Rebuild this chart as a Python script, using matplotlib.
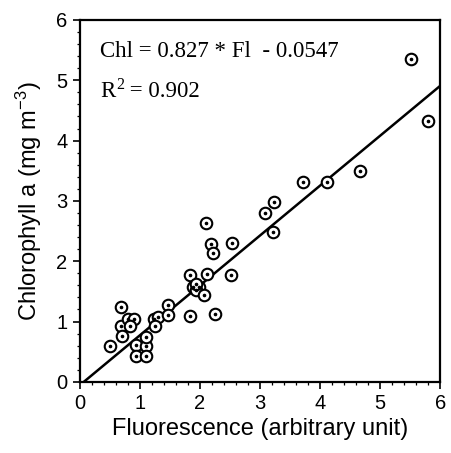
import matplotlib
matplotlib.use("Agg")
import matplotlib.pyplot as plt
from matplotlib.ticker import MultipleLocator
import numpy as np

fluorescence = [0.51, 0.69, 0.69, 0.71, 0.80, 0.90, 0.84, 0.94, 1.10, 0.94, 1.11, 1.10,
                1.23, 1.30, 1.25, 1.47, 1.47, 1.84, 1.84, 1.88, 1.98, 1.93, 1.93, 2.07,
                2.11, 2.10, 2.19, 2.22, 2.25, 2.51, 2.54, 3.09, 3.21, 3.24, 3.72, 4.11,
                4.67, 5.52, 5.80]
chlorophyll = [0.59, 1.24, 0.93, 0.76, 1.05, 1.05, 0.93, 0.61, 0.59, 0.43, 0.43, 0.74,
               1.05, 1.08, 0.93, 1.28, 1.11, 1.78, 1.09, 1.58, 1.58, 1.53, 1.63, 1.44,
               1.79, 2.64, 2.29, 2.13, 1.12, 1.78, 2.30, 2.80, 2.48, 2.98, 3.31, 3.31,
               3.49, 5.36, 4.33]
slope = 0.827
intercept = -0.0547
r2 = 0.902

plt.rcParams["mathtext.fontset"] = "custom"
plt.rcParams["mathtext.rm"] = "Liberation Sans"
plt.rcParams["mathtext.it"] = "Liberation Sans:italic"

fig = plt.figure(figsize=(4.51, 4.53), dpi=100)
ax = fig.add_axes([0.177, 0.157, 0.799, 0.799])

ax.plot(fluorescence, chlorophyll, linestyle="none", marker="o", markersize=8.3,
        markerfacecolor="white", markeredgecolor="black", markeredgewidth=1.5, zorder=3)
ax.plot(fluorescence, chlorophyll, linestyle="none", marker="o", markersize=1.6,
        markerfacecolor="black", markeredgecolor="black", zorder=4)

x0 = -intercept / slope
xs = np.array([x0, 6.0])
ax.plot(xs, slope * xs + intercept, color="black", linewidth=1.8, zorder=2)

ax.set_xlim(0, 6)
ax.set_ylim(0, 6)
ax.xaxis.set_major_locator(MultipleLocator(1))
ax.yaxis.set_major_locator(MultipleLocator(1))
ax.xaxis.set_minor_locator(MultipleLocator(0.2))
ax.yaxis.set_minor_locator(MultipleLocator(0.2))
ax.tick_params(which="major", direction="out", length=5, width=1.2, labelsize=14.5,
               pad=4, top=False, right=False)
ax.tick_params(which="minor", direction="out", length=2.5, width=0.9, top=False, right=False)
for lab in ax.get_xticklabels() + ax.get_yticklabels():
    lab.set_fontfamily("Liberation Sans")
for s in ax.spines.values():
    s.set_linewidth(1.6)

ax.set_xlabel("Fluorescence (arbitrary unit)", fontsize=17, family="Liberation Sans", labelpad=3)
ax.set_ylabel("Chlorophyll a (mg m$^{-3}$)", fontsize=17, family="Liberation Sans", labelpad=9)

ax.text(0.34, 5.39, "Chl = %.3f * Fl  - %.4f" % (slope, -intercept), fontsize=16.5,
        family="Liberation Serif", va="baseline", ha="left")

# R^2 with a full-size serif superscript
tR = ax.text(0.34, 4.73, "R", fontsize=16.5, family="Liberation Serif",
             va="baseline", ha="left")
fig.canvas.draw()
wR = tR.get_window_extent().width
t2 = ax.annotate("2", xy=(0.34, 4.73), xytext=(wR + 0.5, 8), textcoords="offset pixels",
                 fontsize=11.5, family="Liberation Serif", va="baseline", ha="left")
fig.canvas.draw()
w2 = t2.get_window_extent().width
ax.annotate(" = %.3f" % r2, xy=(0.34, 4.73), xytext=(wR + w2 + 1, 0),
            textcoords="offset pixels", fontsize=16.5, family="Liberation Serif",
            va="baseline", ha="left")

fig.savefig("out.png", dpi=100)
